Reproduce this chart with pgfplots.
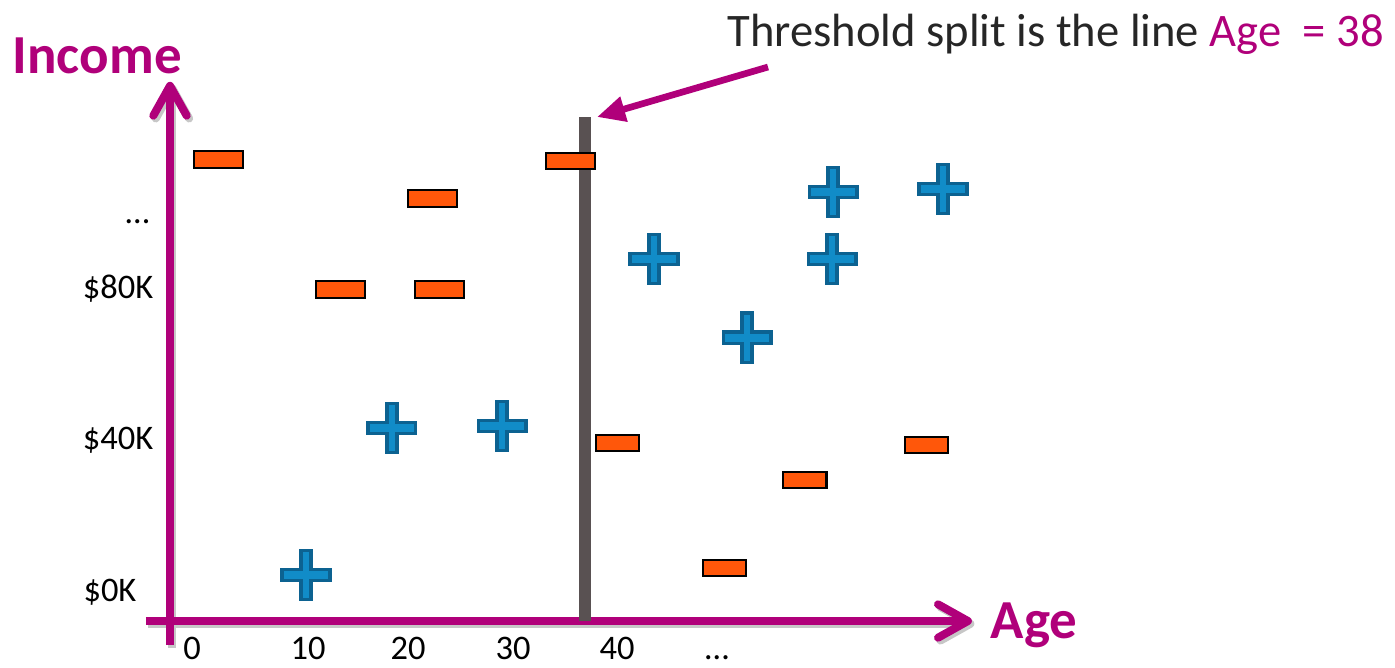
\documentclass[border=0pt]{standalone}
\usepackage{pgfplots}
\pgfplotsset{compat=1.18}
\usepackage{fontspec}
\setmainfont{Carlito}
\usetikzlibrary{arrows.meta}

\definecolor{magentaax}{RGB}{176,0,122}
\definecolor{minusfill}{RGB}{255,87,10}
\definecolor{plusfill}{RGB}{17,140,200}
\definecolor{plusedge}{RGB}{12,98,145}
\definecolor{splitgray}{RGB}{89,81,82}
\definecolor{textgray}{RGB}{38,38,38}

% orange "minus" boxes, two sizes as on the slide
\pgfdeclareplotmark{minusbig}{%
  \pgfpathrectanglecorners{\pgfpoint{-6.97pt}{-2.4pt}}{\pgfpoint{6.97pt}{2.4pt}}%
  \pgfusepathqfillstroke}
\pgfdeclareplotmark{minussmall}{%
  \pgfpathrectanglecorners{\pgfpoint{-6.12pt}{-2.25pt}}{\pgfpoint{6.12pt}{2.25pt}}%
  \pgfusepathqfillstroke}
% blue "plus"
\pgfdeclareplotmark{fatplus}{%
  \pgfpathmoveto{\pgfpoint{-1.45pt}{7.0pt}}%
  \pgfpathlineto{\pgfpoint{1.45pt}{7.0pt}}%
  \pgfpathlineto{\pgfpoint{1.45pt}{1.6pt}}%
  \pgfpathlineto{\pgfpoint{6.76pt}{1.6pt}}%
  \pgfpathlineto{\pgfpoint{6.76pt}{-1.6pt}}%
  \pgfpathlineto{\pgfpoint{1.45pt}{-1.6pt}}%
  \pgfpathlineto{\pgfpoint{1.45pt}{-7.0pt}}%
  \pgfpathlineto{\pgfpoint{-1.45pt}{-7.0pt}}%
  \pgfpathlineto{\pgfpoint{-1.45pt}{-1.6pt}}%
  \pgfpathlineto{\pgfpoint{-6.76pt}{-1.6pt}}%
  \pgfpathlineto{\pgfpoint{-6.76pt}{1.6pt}}%
  \pgfpathlineto{\pgfpoint{-1.45pt}{1.6pt}}%
  \pgfpathclose
  \pgfusepathqfillstroke}

\begin{document}
\begin{tikzpicture}
\begin{axis}[
    width=13.95cm, height=6.67cm, scale only axis,
    xmin=-18.07, xmax=113.22,
    ymin=-19.80, ymax=156.30,
    axis line style={draw=none},
    tick style={draw=none},
    clip=false,
    xtick={0,10.92,20.33,30.21,40,49.41},
    xticklabels={0,10,20,30,40,…},
    xticklabel style={anchor=base, yshift=2pt, inner sep=0pt,
        font=\fontsize{9.8}{12}\selectfont},
    ytick={0,40,80,97.7},
    yticklabels={\$0K\kern4.8pt,\$40K,\$80K,…\kern1.1pt},
    yticklabel style={anchor=east, xshift=43.8pt, inner sep=0pt,
        font=\fontsize{9.8}{12}\selectfont},
]
% axis arrows (slide style)
\draw[black!22, line width=2.28pt,
      -{Straight Barb[length=8.5pt,width=9.5pt,round]}]
    ([xshift=0.7pt,yshift=-0.8pt]axis cs:-4.33,-7.66) -- ([xshift=0.7pt,yshift=-0.8pt]axis cs:73.4,-7.66);
\draw[black!22, line width=2.28pt,
      -{Straight Barb[length=8.5pt,width=9.5pt,round]}]
    ([xshift=0.7pt,yshift=-0.8pt]axis cs:-2.07,-14.0) -- ([xshift=0.7pt,yshift=-0.8pt]axis cs:-2.07,134.7);
\draw[magentaax, line width=2.28pt,
      -{Straight Barb[length=8.5pt,width=9.5pt,round]}]
    (axis cs:-4.33,-7.66) -- (axis cs:73.4,-7.66);
\draw[magentaax, line width=2.28pt,
      -{Straight Barb[length=8.5pt,width=9.5pt,round]}]
    (axis cs:-2.07,-14.0) -- (axis cs:-2.07,134.7);

% threshold split line
\addplot[splitgray, line width=3.41pt, no marks] coordinates {(37,-7.66) (37,125.4)};

% negatives
\addplot[only marks, mark=minusbig,
    mark options={fill=minusfill, draw=black, line width=0.57pt}]
    coordinates {(2.45,114.3) (22.59,104.0) (14.02,79.9) (23.25,79.9) (35.58,113.8)};
\addplot[only marks, mark=minussmall,
    mark options={fill=minusfill, draw=black, line width=0.57pt}]
    coordinates {(40.09,39.3) (50.16,6.3) (57.69,29.6) (69.08,38.8)};
% positives
\addplot[only marks, mark=fatplus,
    mark options={fill=plusfill, draw=plusedge, line width=1pt}]
    coordinates {(10.73,4.5) (18.82,43.3) (29.18,43.8) (43.48,87.9)
                 (52.24,67.1) (60.33,105.6) (60.24,87.9) (70.68,106.4)};

% labels
\node[anchor=base west, inner sep=0pt, text=magentaax,
      font=\fontsize{15.65}{18}\selectfont\bfseries] at (axis cs:-16.94,136.8) {Income};
\node[anchor=base west, inner sep=0pt, text=magentaax,
      font=\fontsize{15.65}{18}\selectfont\bfseries] at (axis cs:75.1,-12.28) {Age};
\node[anchor=base west, inner sep=0pt, text=textgray,
      font=\fontsize{13.26}{16}\selectfont] at (axis cs:50.35,143.9)
    {Threshold split is the line \textcolor{magentaax}{Age\ \ = 38}};
\draw[magentaax, line width=1.9pt, -{Triangle[length=8pt,width=7pt]}]
    (axis cs:54.21,138.6) -- (axis cs:38.12,125.4);
\end{axis}
\pgfresetboundingbox
\path (current axis.south west) rectangle (current axis.north east);
\end{tikzpicture}
\end{document}
